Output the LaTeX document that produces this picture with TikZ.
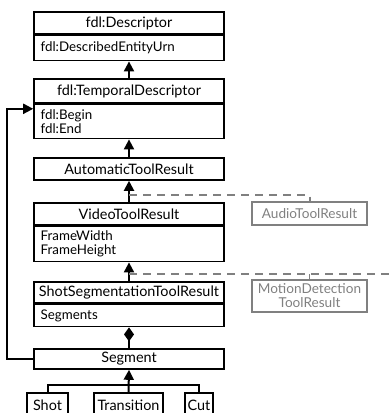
\documentclass[tikz,border=0pt]{standalone}
\usepackage{fontspec}
\setmainfont{Lato}
\usetikzlibrary{arrows.meta}
\definecolor{toolgray}{RGB}{128,128,128}
\tikzset{
  cls/.style={draw,line width=1.2pt,minimum width=142.5pt,inner sep=0pt,
    font=\fontsize{10.8}{12}\selectfont},
  attr/.style={draw,line width=1.2pt,minimum width=142.5pt,inner xsep=5pt,
    inner ysep=0pt,text width=132.5pt,align=left,anchor=north,
    font=\fontsize{10}{10.5}\selectfont},
  tool/.style={draw=toolgray,line width=1pt,text=toolgray,inner sep=0pt,
    minimum width=86.25pt,align=center,font=\fontsize{10.2}{10.5}\selectfont},
  gen/.style={line width=1.5pt,-{Triangle[length=7.5pt,width=7.5pt]}},
  ext/.style={toolgray,line width=1.5pt,dash pattern=on 6pt off 4.5pt}
}
\begin{document}
\begin{tikzpicture}[x=0.75pt,y=-0.75pt]
      \useasboundingbox (0,0) rectangle (391,413);

      % classes
      \node[cls,minimum height=16.5pt] (desc) at (129,23) {fdl:Descriptor};
      \node[attr,minimum height=18.75pt] (descA) at (desc.south) {fdl:DescribedEntityUrn};
      \node[cls,minimum height=18pt] (temp) at (129,91) {fdl:TemporalDescriptor};
      \node[attr,minimum height=25.5pt] (tempA) at (temp.south) {fdl:Begin\\fdl:End};
      \node[cls,minimum height=16.5pt] (auto) at (129,169) {AutomaticToolResult};
      \node[cls,minimum height=16.5pt] (video) at (129,214) {VideoToolResult};
      \node[attr,minimum height=26.25pt] (videoA) at (video.south) {FrameWidth\\FrameHeight};
      \node[cls,minimum height=15.75pt] (shotseg) at (129,292.5) {ShotSegmentationToolResult};
      \node[attr,minimum height=16.5pt] (shotsegA) at (shotseg.south) {Segments};
      \node[cls,minimum height=15pt] (seg) at (129,359) {Segment};

      \node[cls,minimum width=30.75pt,minimum height=18pt] (shotb) at (47.5,405) {Shot};
      \node[cls,minimum width=51.75pt,minimum height=18pt] (trans) at (128.5,405) {Transition};
      \node[cls,minimum width=21pt,minimum height=18pt] (cutb) at (199,405) {Cut};

      % tools not in the chain
      \node[tool,minimum height=17.25pt] (audio) at (309.5,213.5) {AudioToolResult};
      \node[tool,minimum height=24pt] (motion) at (309.5,296) {MotionDetection\\ToolResult};

      % inheritance
      \draw[gen] (temp.north) -- (descA.south);
      \draw[gen] (auto.north) -- (tempA.south);
      \draw[gen] (video.north) -- (auto.south);
      \draw[gen] (shotseg.north) -- (videoA.south);
      \draw[gen] (trans.north) -- (seg.south);

      \coordinate (j1) at (129,195);
      \coordinate (j2) at (129,274);
      \draw[ext] (j1) -- (j1 -| audio.north) -- (audio.north);
      \draw[ext] (j2) -- (400,274);
      \draw[toolgray,line width=1pt] (j2 -| motion.north) -- (motion.north);

      \coordinate (br) at (129,385);
      \draw[line width=1.5pt] (shotb.north) -- (shotb.north |- br) -- (cutb.north |- br) -- (cutb.north);

      \draw[line width=1.5pt,-{Diamond[length=10.5pt,width=7.5pt]}] (seg.north) -- (shotsegA.south);

      \coordinate (tin) at ([yshift=-3.75pt]tempA.north west);
      \draw[gen] (seg.west) -- ++(-26,0) |- (tin);
    \end{tikzpicture}
\end{document}
